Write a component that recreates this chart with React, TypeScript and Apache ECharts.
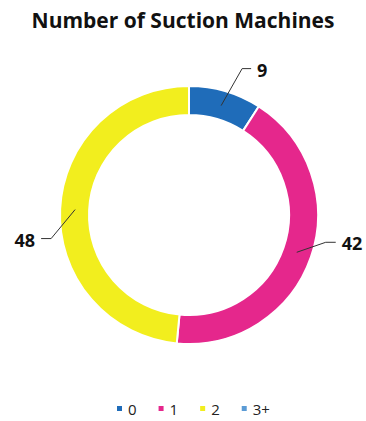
import React, { useEffect, useRef } from "react";
import * as echarts from "echarts";

const titleText = "Number of Suction Machines";
const categories = ["0", "1", "2", "3+"];
const counts = [9, 42, 48, 0];
const colors = ["#1F6CB9", "#E5278C", "#F2EE1E", "#5B9BD5"];
// leader line shape per category: bend offset from anchor, horizontal tail length
const leaderBend = [[21, -37], [29, -10], [-24, 29], [0, 0]];
const leaderTail = [9, 10, 10, 0];

export default function App() {
  const ref = useRef<HTMLDivElement>(null);
  useEffect(() => {
    document.body.style.margin = "0";
    const chart = echarts.init(ref.current!, null, { renderer: "svg" });
    const data = categories.map((c, i) => ({
      name: c,
      value: counts[i],
      itemStyle: { color: colors[i] },
    }));
    const labelData = categories.map((c, i) => ({
      name: c,
      value: counts[i],
      itemStyle: { color: "rgba(0,0,0,0)" },
      label: { show: counts[i] > 0 },
      labelLine: { show: counts[i] > 0 },
    }));
    chart.setOption({
      animation: false,
      title: {
        text: titleText,
        left: "center",
        top: 4,
        textStyle: { fontFamily: "Open Sans", fontWeight: "bold", fontSize: 21, color: "#111" },
      },
      legend: {
        data: categories,
        top: 396,
        left: 110,
        icon: "rect",
        itemWidth: 7,
        itemHeight: 7,
        itemGap: 20,
        textStyle: { fontFamily: "Open Sans", fontSize: 15, color: "#222" },
        selectedMode: false,
      },
      series: [
        {
          type: "pie",
          z: 2,
          center: [189, 215],
          radius: [100, 129],
          startAngle: 90,
          clockwise: true,
          silent: true,
          label: { show: false },
          labelLine: { show: false },
          itemStyle: { borderColor: "#fff", borderWidth: 2 },
          emphasis: { disabled: true },
          data,
        },
        {
          type: "pie",
          z: 5,
          center: [189, 215],
          radius: [0, 114],
          startAngle: 90,
          clockwise: true,
          silent: true,
          emphasis: { disabled: true },
          label: {
            show: true,
            position: "outside",
            formatter: "{c}",
            fontFamily: "Open Sans",
            fontWeight: "bold",
            fontSize: 18,
            color: "#111",
          },
          labelLine: { show: true, length: 20, length2: 10, lineStyle: { color: "#333", width: 1 } },
          labelLayout: (params: any) => {
            const i = params.dataIndex;
            const p0 = params.labelLinePoints ? params.labelLinePoints[0] : [0, 0];
            const b = leaderBend[i];
            const p1 = [p0[0] + b[0], p0[1] + b[1]];
            const dir = b[0] >= 0 ? 1 : -1;
            const p2 = [p1[0] + dir * leaderTail[i], p1[1]];
            return {
              x: p2[0] + dir * 6,
              y: p2[1] + 1,
              align: dir > 0 ? "left" : "right",
              verticalAlign: "middle",
              labelLinePoints: [p0, p1, p2],
            };
          },
          data: labelData,
        },
      ],
    });
    return () => chart.dispose();
  }, []);
  return <div ref={ref} style={{ width: 366, height: 421 }} />;
}
